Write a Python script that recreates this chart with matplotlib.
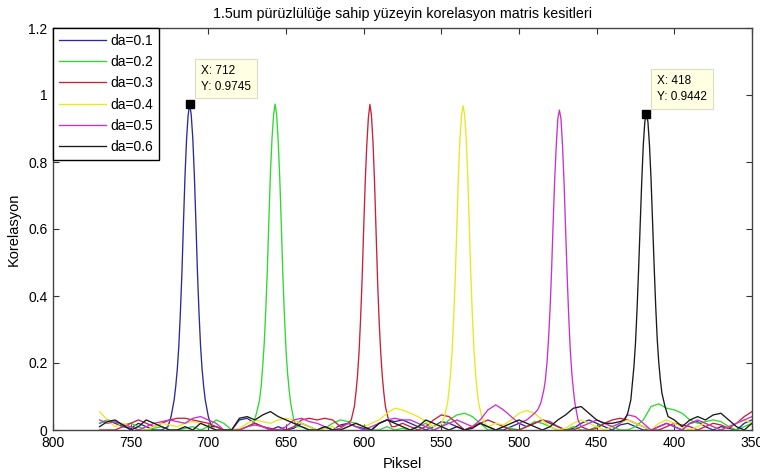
import matplotlib
matplotlib.use("Agg")
import matplotlib.pyplot as plt

plt.rcParams['font.family'] = ['Liberation Sans', 'DejaVu Sans']

# ---------------- data ----------------
title = "1.5um pürüzlülüğe sahip yüzeyin korelasyon matris kesitleri"
labels = ["da=0.1", "da=0.2", "da=0.3", "da=0.4", "da=0.5", "da=0.6"]
colors = ["#2a2a9c", "#2fd82f", "#c8203a", "#e8e820", "#cc30cc", "#1a1a1a"]

# sample positions of the background part of each curve (pixel index)
x_grid = [770, 765, 760, 755, 750, 745, 740, 735, 730, 725,
          720, 715, 710, 705, 700, 695, 690, 685, 680, 675,
          670, 665, 660, 655, 650, 645, 640, 635, 630, 625,
          620, 615, 610, 605, 600, 595, 590, 585, 580, 575,
          570, 565, 560, 555, 550, 545, 540, 535, 530, 525,
          520, 515, 510, 505, 500, 495, 490, 485, 480, 475,
          470, 465, 460, 455, 450, 445, 440, 435, 430, 425,
          420, 415, 410, 405, 400, 395, 390, 385, 380, 375,
          370, 365, 360, 355, 350]

N = None
noise_01 = [.02, .03, .02, .01, .005, .02, .01, 0, 0, N,
            N, N, N, N, N, .01, 0, 0, .03, .035,
            .02, .01, 0, .01, 0, .005, .02, .01, 0, .01,
            0, .015, .02, .01, .005, 0, .02, .03, .025, .03,
            .02, .01, 0, .01, .025, .02, .01, 0, .01, .02,
            .01, 0, 0, .01, .02, .01, .02, .03, .02, .01,
            0, .005, .02, .03, .02, .01, 0, .015, .02, .01,
            0, 0, .01, .02, .01, 0, .02, .025, .01, 0,
            .01, .005, 0, .02, .03]
noise_02 = [.02, .03, .025, .015, .02, .01, 0, .005, .01, 0,
            0, .005, .01, 0, .01, .03, .02, 0, 0, .01,
            N, N, N, N, N, N, .01, 0, 0, .005,
            .02, .03, .025, .02, .01, 0, 0, .01, 0, .005,
            0, .01, .02, 0, .01, .03, .045, .05, .04, .02,
            0, 0, .01, .005, 0, .01, .025, .02, .01, 0,
            0, .01, 0, 0, .01, .02, .01, 0, 0, .01,
            .03, .07, .078, .065, .06, .05, .03, .02, .025, .03,
            .025, .01, 0, .01, .02]
noise_03 = [0, 0, 0, .01, .02, .03, .02, .01, .02, .03,
            .035, .035, .03, .025, .02, .01, 0, 0, 0, .01,
            .02, .01, .005, 0, 0, .01, .03, .035, .03, .035,
            .03, .01, N, N, N, N, N, N, .01, .02,
            .01, 0, .01, .03, .045, .04, .02, 0, .01, .02,
            .03, .02, .01, 0, 0, .01, .02, .03, .025, .01,
            0, 0, .01, 0, .005, .02, .03, .035, .03, .02,
            .01, 0, 0, .01, .02, .015, .01, 0, .01, .02,
            .015, .005, .02, .04, .055]
noise_04 = [.055, .03, .01, .02, .01, 0, 0, .01, .02, .015,
            .01, .02, .025, .02, .01, 0, 0, 0, .005, .02,
            .03, .025, .02, .03, .035, .03, .02, .01, 0, .005,
            .01, 0, .01, .02, .01, .02, .03, .05, .065, .06,
            .05, .04, .025, .01, N, N, N, N, N, N,
            .01, .02, .015, .03, .05, .058, .05, .03, .01, 0,
            .005, .02, .03, .02, .01, 0, .01, .02, .03, .02,
            .01, 0, .02, .03, .02, .01, 0, .01, .02, .01,
            0, .01, .02, .03, .02]
noise_05 = [.03, .02, .025, .015, .01, 0, .01, .02, .025, .03,
            .025, .02, .035, .04, .03, .02, 0, 0, 0, .01,
            .015, .01, 0, 0, .01, .03, .035, .025, .02, .01,
            0, .005, .02, .01, 0, .01, .02, .03, .035, .03,
            .03, .02, .01, 0, .01, .02, .03, .02, .01, .03,
            .06, .075, .06, .04, .02, .03, .05, N, N, N,
            N, N, N, .02, .03, .02, .01, .02, .045, .04,
            .02, 0, .01, .02, .01, 0, .02, .03, .02, .01,
            0, .01, .02, .03, .04]
noise_06 = [.01, .025, .03, .015, 0, .01, .03, .02, .01, 0,
            0, .01, 0, .02, .01, 0, 0, 0, .035, .04,
            .03, .045, .055, .04, .03, .02, .01, 0, 0, .01,
            0, 0, .01, .02, .01, 0, .02, .03, .02, .01,
            0, .01, .03, .02, .01, 0, .01, 0, .005, .02,
            .01, 0, .01, .02, .03, .02, .01, 0, .01, .03,
            .045, .065, .07, .05, .03, .02, .02, .025, N, N,
            N, N, N, N, .03, .01, .03, .04, .03, .045,
            .05, .03, .01, 0, .02]

# correlation peaks: offsets from the peak position and values
peak_offsets = [-14, -12, -10, -9, -8, -7, -6, -5, -4, -3, -2, -1, 0,
                1, 2, 3, 4, 5, 6, 7, 8, 9, 10, 12, 14]
peak_pos = [712, 657, 596, 536, 474, 418]
peak_01 = [.01, .04, .09, .13, .18, .25, .35, .47, .62, .76, .87, .94, .9745,
           .94, .87, .76, .62, .47, .35, .25, .18, .13, .09, .04, .01]
peak_02 = [.01, .03, .08, .12, .17, .24, .34, .46, .61, .75, .86, .94, .973,
           .94, .87, .77, .63, .48, .36, .26, .19, .13, .09, .05, .02]
peak_03 = [.01, .03, .07, .11, .16, .23, .32, .44, .59, .74, .86, .94, .972,
           .93, .85, .74, .60, .45, .33, .23, .16, .11, .07, .03, .02]
peak_04 = [.02, .04, .08, .12, .17, .24, .34, .46, .61, .76, .87, .94, .968,
           .94, .87, .76, .61, .46, .34, .24, .17, .12, .08, .04, .02]
peak_05 = [.01, .03, .08, .12, .17, .24, .34, .46, .60, .74, .85, .93, .955,
           .93, .85, .75, .62, .48, .36, .27, .20, .15, .12, .08, .06]
peak_06 = [.04, .07, .11, .15, .20, .27, .37, .49, .62, .75, .85, .92, .9442,
           .92, .85, .74, .61, .48, .36, .26, .19, .14, .09, .05, .03]

noises = [noise_01, noise_02, noise_03, noise_04, noise_05, noise_06]
peaks = [peak_01, peak_02, peak_03, peak_04, peak_05, peak_06]

tips_x = [712, 418]
tips_y = [0.9745, 0.9442]

x_ticks = [800, 750, 700, 650, 600, 550, 500, 450, 400, 350]
y_ticks = [0, 0.2, 0.4, 0.6, 0.8, 1.0, 1.2]
y_ticklabels = ["0", "0.2", "0.4", "0.6", "0.8", "1", "1.2"]

# ---------------- figure ----------------
fig = plt.figure(figsize=(7.6, 4.74), dpi=100)
ax = fig.add_axes([53 / 760, 1 - 430 / 474, 699 / 760, 402 / 474])

for lab, col, nz, pk, c in zip(labels, colors, noises, peaks, peak_pos):
    pts = [(x, y) for x, y in zip(x_grid, nz) if y is not None and abs(x - c) > 14]
    pts += [(c + o, v) for o, v in zip(peak_offsets, pk)]
    pts.sort(key=lambda p: -p[0])
    ax.plot([p[0] for p in pts], [p[1] for p in pts], color=col, lw=0.95, label=lab)

for tx, ty in zip(tips_x, tips_y):
    ax.plot([tx], [ty], marker='s', ms=6, color='black', zorder=5)
    ax.annotate(f"X: {tx}\nY: {ty}", xy=(tx, ty), xytext=(11, 11),
                textcoords='offset pixels', ha='left', va='bottom',
                fontsize=8.5, linespacing=1.4,
                bbox=dict(boxstyle='square,pad=0.5', fc='#ffffe3', ec='#dcdcc4', lw=0.8),
                zorder=6)

ax.set_xlim(800, 350)
ax.set_ylim(0, 1.2)
ax.set_xticks(x_ticks)
ax.set_xticklabels([str(v) for v in x_ticks])
ax.set_yticks(y_ticks)
ax.set_yticklabels(y_ticklabels)
ax.tick_params(direction='in', top=True, right=True, length=4.5, width=0.8,
               labelsize=10, color='#333333', pad=4)
for s in ax.spines.values():
    s.set_color('#444444')
    s.set_linewidth(1.0)

ax.set_title(title, fontsize=10.3, pad=7)
ax.set_xlabel("Piksel", fontsize=10.5, labelpad=5)
ax.set_ylabel("Korelasyon", fontsize=10.5, labelpad=5)

leg = ax.legend(loc='upper left', borderaxespad=0, fontsize=10, fancybox=False,
                edgecolor='black', framealpha=1, handlelength=3.4,
                handletextpad=0.35, labelspacing=0.53, borderpad=0.4)
leg.get_frame().set_linewidth(1.0)

fig.savefig("out.png", dpi=100)
